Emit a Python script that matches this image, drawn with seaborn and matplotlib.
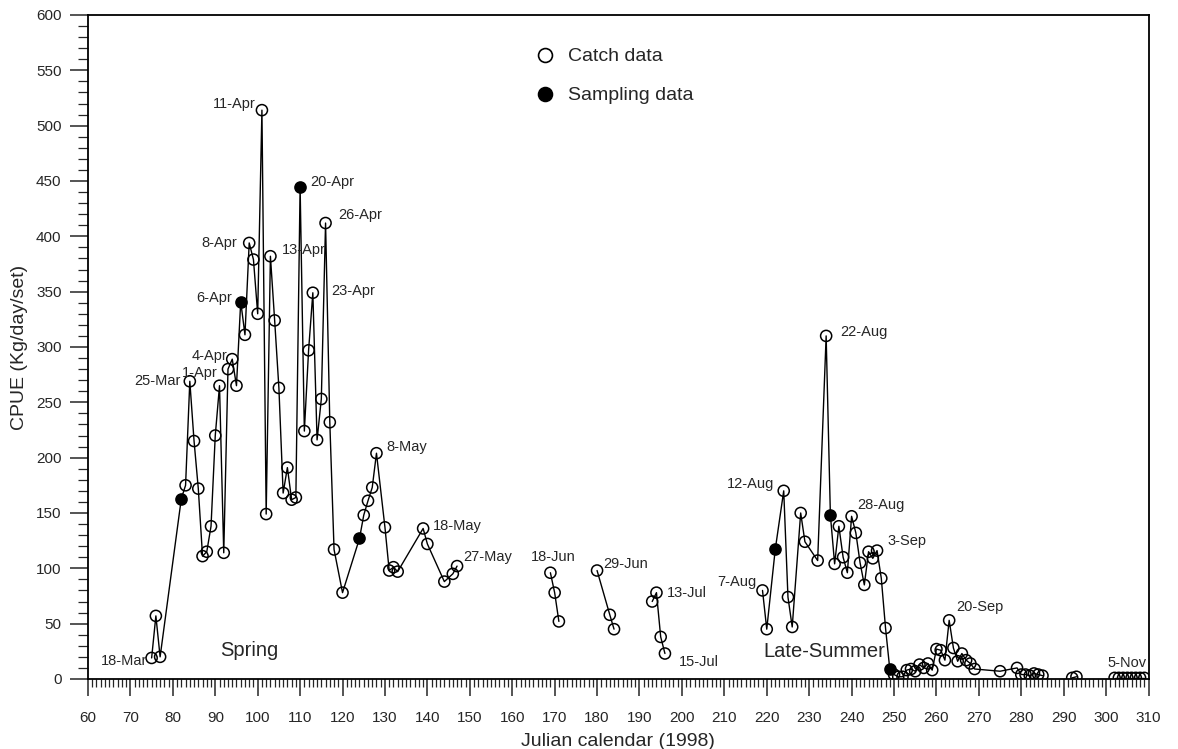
import numpy as np
import pandas as pd
import matplotlib
matplotlib.use("Agg")
import matplotlib.pyplot as plt
from matplotlib.lines import Line2D
from matplotlib.ticker import MultipleLocator
import seaborn as sns

# ---------------- data ----------------
spring_days = [75, 76, 77, 82, 83, 84, 85, 86, 87, 88, 89, 90, 91, 92, 93, 94, 95, 96, 97, 98,
               99, 100, 101, 102, 103, 104, 105, 106, 107, 108, 109, 110, 111, 112, 113, 114,
               115, 116, 117, 118, 120, 124, 125, 126, 127, 128, 130, 131, 132, 133, 139, 140,
               144, 146, 147]
spring_cpue = [19, 57, 20, 163, 175, 269, 215, 172, 111, 115, 138, 220, 265, 114, 280, 289,
               265, 341, 311, 394, 379, 330, 514, 149, 382, 324, 263, 168, 191, 162, 164, 445,
               224, 297, 349, 216, 253, 412, 232, 117, 78, 127, 148, 161, 173, 204, 137, 98,
               101, 97, 136, 122, 88, 95, 102]

jun1_days = [169, 170, 171]
jun1_cpue = [96, 78, 52]
jun2_days = [180, 183, 184]
jun2_cpue = [98, 58, 45]
jul_days = [193, 194, 195, 196]
jul_cpue = [70, 78, 38, 23]

summer_days = [219, 220, 222, 224, 225, 226, 228, 229, 232, 234, 235, 236, 237, 238, 239, 240,
               241, 242, 243, 244, 245, 246, 247, 248, 249, 250, 251, 252, 253, 254, 255, 256,
               257, 258, 259, 260, 261, 262, 263, 264, 265, 266, 267, 268, 269, 275, 279, 280,
               281, 282, 283, 284, 285]
summer_cpue = [80, 45, 117, 170, 74, 47, 150, 124, 107, 310, 148, 104, 138, 110, 96, 147,
               132, 105, 85, 115, 109, 116, 91, 46, 9, 4, 2, 2, 8, 9, 7, 13,
               10, 14, 8, 27, 26, 17, 53, 28, 16, 23, 17, 14, 9, 7, 10, 4,
               4, 3, 5, 4, 3]

oct_days = [292, 293]
oct_cpue = [1, 2]
nov_days = [302, 303, 304, 305, 306, 307, 308, 309]
nov_cpue = [1, 1, 1, 1, 1, 1, 1, 1]

sampling_days = [82, 96, 110, 124, 222, 235, 249]

label_texts = ["18-Mar", "25-Mar", "1-Apr", "4-Apr", "6-Apr", "8-Apr", "11-Apr", "13-Apr",
               "20-Apr", "23-Apr", "26-Apr", "8-May", "18-May", "27-May", "18-Jun", "29-Jun",
               "13-Jul", "15-Jul", "7-Aug", "12-Aug", "22-Aug", "28-Aug", "3-Sep", "20-Sep",
               "5-Nov"]
label_days = [75, 84, 93, 94, 96, 98, 101, 103, 110, 113, 116, 128, 139, 147, 169, 180,
              194, 196, 219, 224, 234, 240, 246, 263, 309]

# ---------------- table ----------------
segments = [(spring_days, spring_cpue), (jun1_days, jun1_cpue), (jun2_days, jun2_cpue),
            (jul_days, jul_cpue), (summer_days, summer_cpue), (oct_days, oct_cpue),
            (nov_days, nov_cpue)]
rows = []
for k, (dd, cc) in enumerate(segments):
    for d, c in zip(dd, cc):
        rows.append({"day": d, "cpue": c, "segment": k,
                     "source": "Sampling data" if d in sampling_days else "Catch data"})
df = pd.DataFrame(rows)

# ---------------- style ----------------
sns.set_style("ticks")
plt.rcParams["font.family"] = ["Liberation Sans", "DejaVu Sans"]

fig = plt.figure(figsize=(11.78, 7.49), dpi=100)
ax = fig.add_axes([0.0747, 0.0935, 0.9003, 0.8865])

sns.lineplot(data=df, x="day", y="cpue", units="segment", estimator=None, sort=True,
             color="black", lw=1.0, ax=ax, zorder=2)
sns.scatterplot(data=df[df.source == "Catch data"], x="day", y="cpue", marker="o",
                facecolor="none", edgecolor="black", linewidth=1.1, s=64, ax=ax, zorder=3)
sns.scatterplot(data=df[df.source == "Sampling data"], x="day", y="cpue", marker="o",
                color="black", edgecolor="black", linewidth=1.1, s=64, ax=ax, zorder=4)

ax.set_xlim(60, 310)
ax.set_ylim(0, 600)
ax.xaxis.set_major_locator(MultipleLocator(10))
ax.xaxis.set_minor_locator(MultipleLocator(1))
ax.yaxis.set_major_locator(MultipleLocator(50))
ax.yaxis.set_minor_locator(MultipleLocator(10))
ax.tick_params(axis="x", which="major", direction="out", length=12, width=1.1, labelsize=11, pad=11)
ax.tick_params(axis="x", which="minor", direction="out", length=6, width=0.9)
ax.tick_params(axis="y", which="major", direction="out", length=13, width=1.1, labelsize=11, pad=6)
ax.tick_params(axis="y", which="minor", direction="out", length=7, width=0.9)
for s in ax.spines.values():
    s.set_linewidth(1.3)
    s.set_color("black")

ax.set_xlabel("Julian calendar (1998)", fontsize=14, labelpad=6)
ax.set_ylabel("CPUE (Kg/day/set)", fontsize=14, labelpad=6)

# ---------------- annotations ----------------
offsets = {
    "18-Mar": (-4, -3, "right"), "25-Mar": (-9, 0, "right"), "1-Apr": (-10, -4, "right"),
    "4-Apr": (-5, 3, "right"), "6-Apr": (-9, 4, "right"), "8-Apr": (-12, 0, "right"),
    "11-Apr": (-6, 6, "right"), "13-Apr": (11, 6, "left"), "20-Apr": (10, 5, "left"),
    "23-Apr": (18, 2, "left"), "26-Apr": (13, 8, "left"), "8-May": (10, 6, "left"),
    "18-May": (10, 2, "left"), "27-May": (6, 9, "left"), "18-Jun": (3, 16, "center"),
    "29-Jun": (6, 7, "left"), "13-Jul": (10, 0, "left"), "15-Jul": (14, -8, "left"),
    "7-Aug": (-6, 8, "right"), "12-Aug": (-9, 7, "right"), "22-Aug": (14, 4, "left"),
    "28-Aug": (6, 11, "left"), "3-Sep": (10, 10, "left"), "20-Sep": (7, 13, "left"),
    "5-Nov": (2, 15, "right"),
}
lookup = dict(zip(df.day, df.cpue))
for txt, d in zip(label_texts, label_days):
    dx, dy, ha = offsets[txt]
    ax.annotate(txt, (d, lookup[d]), xytext=(dx, dy), textcoords="offset pixels",
                ha=ha, va="center", fontsize=10.5)

ax.text(98, 26, "Spring", fontsize=14.5, ha="center", va="center")
ax.text(233.5, 24.5, "Late-Summer", fontsize=14.5, ha="center", va="center")

handles = [Line2D([], [], marker="o", ls="none", mfc="none", mec="black", mew=1.2, ms=10),
           Line2D([], [], marker="o", ls="none", mfc="black", mec="black", mew=1.2, ms=10)]
ax.legend(handles, ["Catch data", "Sampling data"], loc="upper left",
          bbox_to_anchor=(0.403, 0.977), frameon=False, fontsize=14,
          labelspacing=1.1, handletextpad=0.6, handlelength=1.2)

fig.savefig("out.png", dpi=100)
